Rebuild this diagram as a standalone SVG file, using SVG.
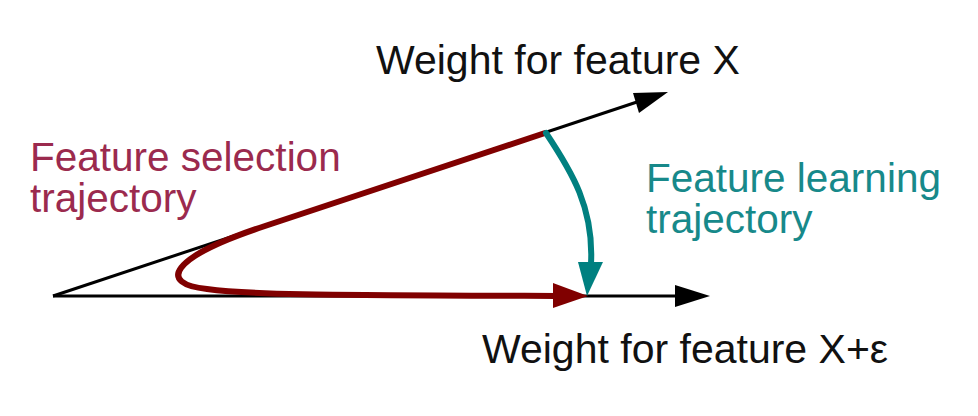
<svg xmlns="http://www.w3.org/2000/svg" width="978" height="416" viewBox="0 0 978 416">
<style>
text{font-family:"Liberation Sans",Arial,sans-serif;font-size:41px}
.axis{stroke:#000;stroke-width:3;fill:none}
.ah{fill:#000}
.sel{stroke:#800000;stroke-width:6;fill:none;stroke-linecap:round}
.learn{stroke:#008080;stroke-width:6;fill:none;stroke-linecap:round}
.lbl{fill:#111}
.selt{fill:#9b2a4e;font-size:40.5px}
.learnt{fill:#17898a;font-size:40.5px}
</style>
<rect width="978" height="416" fill="#fff"/>
<g id="connectors">
  <path class="axis" d="M53,296 L680,296"/>
  <polygon class="ah" points="675,285 710,296 675,307"/>
  <path class="axis" d="M53,296 L640,101"/>
  <polygon class="ah" points="633,93 668,92 639,113"/>
  <path class="sel" d="M545,133 L265,226 C168,258 158,284 207,289 C252,295 320,295 556,296"/>
  <polygon fill="#800000" points="553,283 588,296 553,308"/>
  <path class="learn" d="M546,133 C572,172 594,208 591,264"/>
  <polygon fill="#008080" points="578,262 603,262 587,296"/>
</g>
<g id="label-x">
  <text class="lbl" x="376" y="74">Weight for feature X</text>
</g>
<g id="label-xe">
  <text class="lbl" x="482" y="363">Weight for feature X+ε</text>
</g>
<g id="label-selection">
  <text class="selt" x="30" y="171">Feature selection</text>
  <text class="selt" x="30" y="212">trajectory</text>
</g>
<g id="label-learning">
  <text class="learnt" x="646" y="192">Feature learning</text>
  <text class="learnt" x="646" y="233">trajectory</text>
</g>
</svg>
